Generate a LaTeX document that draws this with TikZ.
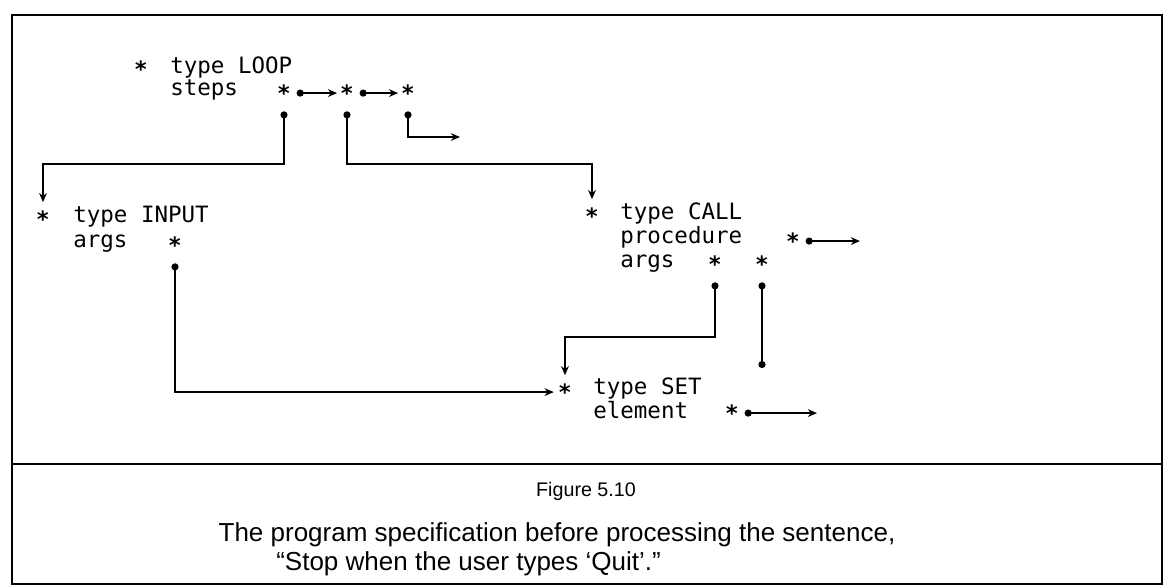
\documentclass[tikz,border=0pt]{standalone}
\usepackage{fontspec}
\setmonofont{DejaVu Sans Mono}
\newfontfamily\capfont{Liberation Sans}
\usetikzlibrary{arrows.meta}

\begin{document}
\begin{tikzpicture}[x=0.025cm, y=-0.025cm, >=Stealth,
  rec/.style={font=\ttfamily\fontsize{16}{19}\selectfont, anchor=base west, inner sep=0pt},
  ptr/.style={font=\ttfamily\bfseries\fontsize{16}{19}\selectfont, inner sep=0pt, yshift=-2.9pt},
  link/.style={line width=1.5pt, {Circle[length=5pt]}-{Stealth[length=6.5pt, width=5.5pt]}},
  nil/.style={line width=1.5pt, {Circle[length=5pt]}-{Circle[length=5pt]}},
  frame/.style={line width=1.8pt},
  capt/.style={font=\capfont\fontsize{18.5}{22}\selectfont, inner sep=0pt}]
  \fill[white] (0,0) rectangle (1165,586);
  \useasboundingbox (0,0) rectangle (1165,586);
  \draw[frame] (12,15) rectangle (1162,584);
  \draw[frame] (12,464) -- (1162,464);

  % LOOP record
  \node[ptr] (loop) at (141,65) {*};
  \node[rec] (looptype) at (170,73) {type LOOP};
  \node[rec] (loopsteps) at (170,95) {steps};
  \node[ptr] (s1) at (284,89) {*};
  \node[ptr] (s2) at (347,89) {*};
  \node[ptr] (s3) at (408,89) {*};
  \coordinate (s3end) at (460,137);

  % INPUT record
  \node[ptr] (inp) at (43,215) {*};
  \node[rec] (inptype) at (73,222) {type INPUT};
  \node[rec] (inpargs) at (73,247) {args};
  \node[ptr] (inA) at (175,241) {*};

  % CALL record
  \node[ptr] (call) at (592,212) {*};
  \node[rec] (calltype) at (620,219) {type CALL};
  \node[rec] (callproc) at (620,243) {procedure};
  \node[rec] (callargs) at (620,267) {args};
  \node[ptr] (cp) at (793,237) {*};
  \node[ptr] (ca1) at (715,260) {*};
  \node[ptr] (ca2) at (762,260) {*};
  \coordinate (cpend) at (860,237);
  \coordinate (ca2end) at (762,368);

  % SET record
  \node[ptr] (set) at (565,388) {*};
  \node[rec] (settype) at (593,394) {type SET};
  \node[rec] (setelem) at (593,418) {element};
  \node[ptr] (se) at (732,409) {*};
  \coordinate (seend) at (817,409);

  % pointers
  \draw[link] ([xshift=9pt]s1.center) -- ([xshift=-7pt]s2.center);
  \draw[link] ([xshift=9pt]s2.center) -- ([xshift=-7pt]s3.center);
  \draw[link] ([yshift=-13pt]s1.center) -- (s1 |- 0,164) -| ([yshift=12pt]inp.center);
  \draw[link] ([yshift=-13pt]s2.center) -- (s2 |- 0,164) -| ([yshift=12pt]call.center);
  \draw[link] ([yshift=-13pt]s3.center) |- (s3end);
  \draw[link] ([yshift=-13pt]inA.center) |- ([xshift=-8pt]set.center);
  \draw[link] ([yshift=-13pt]ca1.center) -- (ca1 |- 0,337) -| ([yshift=12pt]set.center);
  \draw[nil] ([yshift=-13pt]ca2.center) -- (ca2end);
  \draw[link] ([xshift=9pt]cp.center) -- (cp.center -| cpend);
  \draw[link] ([xshift=9pt]se.center) -- (se.center -| seend);

  % caption
  \node[capt, font=\capfont\fontsize{14}{17}\selectfont] (fig) at (586,491) {Figure 5.10};
  \node[capt] (cap1) at (557,535) {The program specification before processing the sentence,};
  \node[capt, anchor=west] (cap2) at (276,564) {“Stop when the user types ‘Quit’.”};
\end{tikzpicture}
\end{document}
